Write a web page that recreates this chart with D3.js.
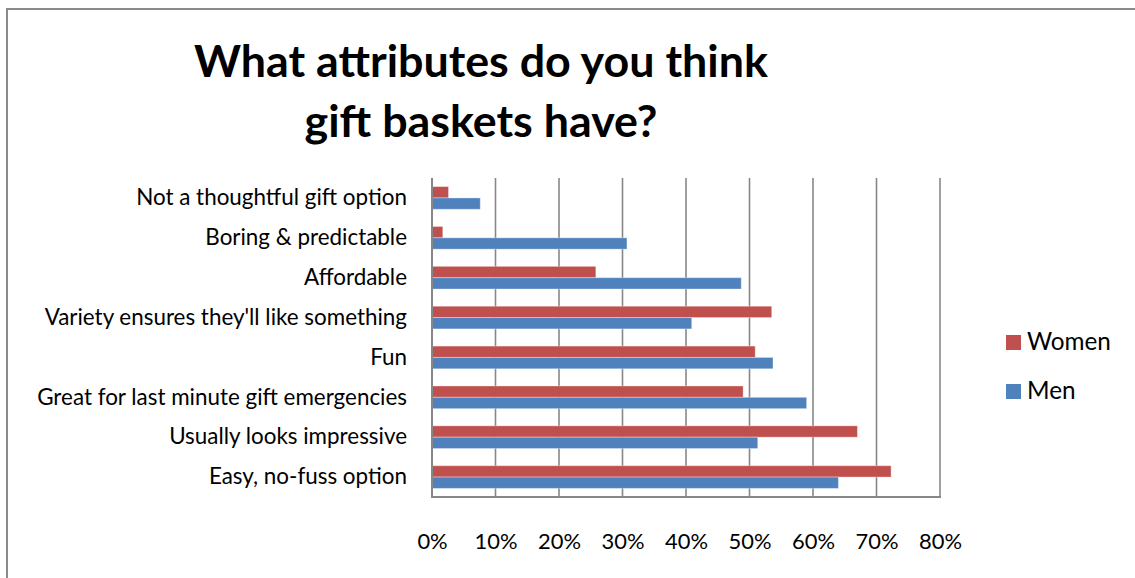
<!DOCTYPE html>
<html><head><meta charset="utf-8">
<script src="https://cdn.jsdelivr.net/npm/d3@7"></script>
<style>body{margin:0;background:#fff;} svg{display:block;font-family:Lato,'Open Sans',sans-serif;}</style>
</head><body><svg id="chart" width="1135" height="578"></svg>
<script>
const categories = ["Not a thoughtful gift option", "Boring & predictable", "Affordable", "Variety ensures they'll like something", "Fun", "Great for last minute gift emergencies", "Usually looks impressive", "Easy, no-fuss option"];
const seriesNames = ["Women", "Men"];
const womenValues = [2.6, 1.7, 25.8, 53.5, 50.9, 49.0, 67.0, 72.3];
const menValues = [7.6, 30.7, 48.7, 40.9, 53.7, 59.0, 51.3, 64.0];
const tickValues = [0, 10, 20, 30, 40, 50, 60, 70, 80];
const titleLines = ["What attributes do you think", "gift baskets have?"];
const seriesColors = ["#C0504D", "#4F81BD"];

const svg = d3.select("#chart");
const plot = {left: 432, right: 940, top: 178, bottom: 497};

// chart border (extends off right/bottom edges)
svg.append("rect").attr("x", 7).attr("y", 9).attr("width", 1200).attr("height", 700)
  .attr("fill", "#fff").attr("stroke", "#8a8a8a").attr("stroke-width", 2);

function fitFont(sel, target, weight) {
  sel.style("font-size", "100px").style("font-weight", weight || "normal");
  const w = sel.node().getComputedTextLength();
  const s = 100 * target / w;
  sel.style("font-size", s + "px");
  return s;
}

// title
const t1 = svg.append("text").attr("x", 481).attr("y", 77).attr("text-anchor", "middle").text(titleLines[0]).attr("fill", "#000");
const ts = fitFont(t1, 574, "bold");
svg.append("text").attr("x", 481).attr("y", 137).attr("text-anchor", "middle").text(titleLines[1])
  .style("font-size", ts + "px").style("font-weight", "bold").attr("fill", "#000");

const x = d3.scaleLinear().domain([0, 80]).range([plot.left, plot.right]);
const y = d3.scaleBand().domain(categories).range([plot.top, plot.bottom]).paddingInner(0.431).paddingOuter(0.2155);
const ySub = d3.scaleBand().domain(seriesNames).range([0, y.bandwidth()]);

// gridlines
svg.append("g").selectAll("line").data(tickValues).join("line")
  .attr("x1", d => x(d)).attr("x2", d => x(d)).attr("y1", plot.top).attr("y2", plot.bottom)
  .attr("stroke", "#878787").attr("stroke-width", 1.6);

// bars
const data = categories.map((c, i) => ({c, vals: [womenValues[i], menValues[i]]}));
const groups = svg.append("g").selectAll("g").data(data).join("g")
  .attr("transform", d => `translate(0,${y(d.c)})`);
groups.selectAll("rect").data(d => d.vals.map((v, j) => ({v, s: seriesNames[j], j}))).join("rect")
  .attr("x", x(0)).attr("y", d => ySub(d.s)).attr("height", ySub.bandwidth())
  .attr("width", d => x(d.v) - x(0))
  .attr("fill", d => seriesColors[d.j])
  .attr("stroke", "#ffffff").attr("stroke-opacity", 0.35).attr("stroke-width", 1);

// left axis line & bottom axis line
svg.append("line").attr("x1", plot.left).attr("x2", plot.left).attr("y1", plot.top).attr("y2", plot.bottom + 1)
  .attr("stroke", "#878787").attr("stroke-width", 2);
svg.append("line").attr("x1", plot.left - 1).attr("x2", plot.right + 1).attr("y1", plot.bottom).attr("y2", plot.bottom)
  .attr("stroke", "#878787").attr("stroke-width", 2);

// category axis
const ax = svg.append("g").attr("transform", `translate(${plot.left},0)`)
  .call(d3.axisLeft(y).tickSize(0).tickPadding(25));
ax.select(".domain").remove();
ax.selectAll("text").attr("fill", "#000").style("font-family", "Lato,'Open Sans',sans-serif");
const longest = ax.selectAll("text").filter(d => d === "Great for last minute gift emergencies");
const cs = fitFont(longest, 370);
ax.selectAll("text").style("font-size", cs + "px");

// value axis labels
const bx = svg.append("g").attr("transform", `translate(0,${plot.bottom})`)
  .call(d3.axisBottom(x).tickValues(tickValues).tickFormat(d => d + "%").tickSize(0));
bx.select(".domain").remove();
bx.selectAll("text").attr("y", 52).attr("dy", 0).attr("fill", "#000")
  .style("font-family", "Lato,'Open Sans',sans-serif");
const l80 = bx.selectAll("text").filter(d => d === 80);
const vs = fitFont(l80, 43);
bx.selectAll("text").style("font-size", vs + "px");

// legend
const leg = svg.append("g").selectAll("g").data(seriesNames).join("g")
  .attr("transform", (d, i) => `translate(1006,${335 + i * 49})`);
leg.append("rect").attr("width", 15).attr("height", 15).attr("fill", (d, i) => seriesColors[i]);
const lt = leg.append("text").attr("x", 21).attr("y", 15).text(d => d).attr("fill", "#000");
const ls = fitFont(lt.filter(d => d === "Women"), 84);
lt.style("font-size", ls + "px");
</script></body></html>
